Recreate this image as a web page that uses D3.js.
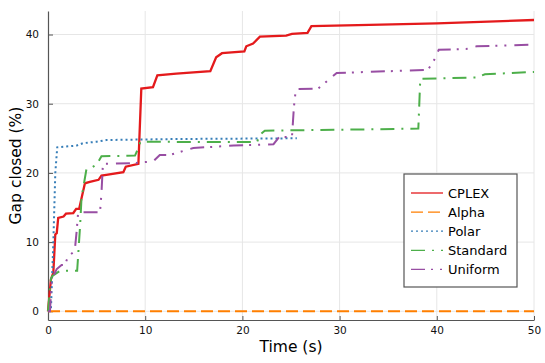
<!DOCTYPE html>
<html>
<head>
<meta charset="utf-8">
<script src="https://cdn.jsdelivr.net/npm/d3@7"></script>
<style>
  body { margin: 0; background: #fff; }
  svg { display: block; font-family: "DejaVu Sans", sans-serif; }
</style>
</head>
<body>
<div id="chart"></div>
<script>
// series data (time in s, gap closed in %)
const cplexT = [0, 0.3, 0.55, 0.75, 0.9, 1.05, 1.6, 1.85, 2.6, 2.9, 3.2, 3.8, 4.3, 5.2, 5.5, 6.0, 7.75, 8.0, 9.3, 9.6, 10.8, 11.25, 13.2, 16.7, 17.3, 17.9, 20.2, 20.4, 21.1, 21.8, 24.5, 25.1, 26.7, 27.1, 33.1, 40, 50];
const cplexV = [0, 4.6, 5.6, 11.1, 11.3, 13.5, 13.7, 14.1, 14.2, 14.8, 14.8, 18.5, 18.7, 19.0, 19.6, 19.7, 20.1, 20.9, 21.3, 32.2, 32.4, 34.1, 34.35, 34.7, 36.7, 37.3, 37.55, 38.3, 38.7, 39.7, 39.85, 40.1, 40.25, 41.2, 41.4, 41.6, 42.1];

const alphaT = [0, 50];
const alphaV = [0, 0];

const polarT = [0, 0.3, 0.55, 0.75, 0.95, 2.95, 3.6, 5.0, 6.0, 13.2, 25.6];
const polarV = [0, 0.2, 10, 20, 23.7, 23.95, 24.3, 24.5, 24.75, 24.9, 25.0];

const standardT = [0, 0.3, 0.45, 1.25, 3.0, 3.3, 3.45, 3.95, 4.3, 5.0, 5.5, 8.95, 9.3, 9.5, 21.5, 21.8, 22.3, 33.1, 38.1, 38.3, 44.1, 44.95, 50];
const standardV = [0, 4.7, 5.1, 5.85, 5.85, 12.3, 16.4, 20.5, 20.6, 21.2, 22.4, 22.5, 23.6, 24.5, 24.45, 25.5, 26.1, 26.3, 26.4, 33.6, 33.8, 34.25, 34.6];

const uniformT = [0, 0.2, 0.4, 0.9, 1.4, 1.75, 2.05, 2.75, 2.95, 3.1, 5.35, 5.5, 5.6, 5.65, 8.8, 9.8, 10.8, 11.5, 12.55, 14.95, 17.35, 19.1, 21.5, 23.2, 23.8, 25.1, 25.3, 25.5, 27.8, 29.7, 33.1, 39.1, 39.8, 40.2, 43.0, 44.1, 50];
const uniformV = [0, 0, 4.65, 6.1, 6.7, 6.7, 7.9, 8.7, 11.6, 14.3, 14.3, 17.1, 19.9, 21.3, 21.4, 21.55, 21.65, 22.6, 22.6, 23.6, 23.8, 23.95, 24.05, 24.15, 25.2, 25.2, 29.55, 32.1, 32.2, 34.45, 34.6, 34.9, 36.5, 37.8, 37.9, 38.3, 38.55];

const seriesNames = ["CPLEX", "Alpha", "Polar", "Standard", "Uniform"];
const xTicks = [0, 10, 20, 30, 40, 50];
const yTicks = [0, 10, 20, 30, 40];

const series = [
  { name: "CPLEX", t: cplexT, v: cplexV, color: "#e41a1c", dash: null },
  { name: "Alpha", t: alphaT, v: alphaV, color: "#ff7f00", dash: "12,5" },
  { name: "Polar", t: polarT, v: polarV, color: "#377eb8", dash: "2,3" },
  { name: "Standard", t: standardT, v: standardV, color: "#4daf4a", dash: "14,7,2,7" },
  { name: "Uniform", t: uniformT, v: uniformV, color: "#984ea3", dash: "14,6,2,7,2,8" }
];

const W = 545, H = 363;
const margin = { top: 11, right: 11, bottom: 43, left: 48 };
const width = W - margin.left - margin.right,
      height = H - margin.top - margin.bottom;

const svg = d3.select("#chart").append("svg")
  .attr("width", W).attr("height", H);

const g = svg.append("g")
  .attr("transform", `translate(${margin.left},${margin.top})`);

const x = d3.scaleLinear().domain([0, 50]).range([0, width]);
const y = d3.scaleLinear().domain([-1.26, 43.4]).range([height, 0]);

// grid
g.append("g").selectAll("line").data(xTicks.slice(1)).enter().append("line")
  .attr("x1", d => x(d)).attr("x2", d => x(d))
  .attr("y1", 0).attr("y2", height)
  .attr("stroke", "#e6e6e6").attr("stroke-width", 1);
g.append("g").selectAll("line").data(yTicks).enter().append("line")
  .attr("x1", 0).attr("x2", width)
  .attr("y1", d => y(d)).attr("y2", d => y(d))
  .attr("stroke", "#e6e6e6").attr("stroke-width", 1);

// axes
const xAxis = g.append("g")
  .attr("transform", `translate(0,${height})`)
  .call(d3.axisBottom(x).tickValues(xTicks).tickSizeInner(-4).tickSizeOuter(0).tickPadding(7));
const yAxis = g.append("g")
  .call(d3.axisLeft(y).tickValues(yTicks).tickSizeInner(-5).tickSizeOuter(0).tickPadding(9));

[xAxis, yAxis].forEach(a => {
  a.select(".domain").attr("stroke", "#555").attr("stroke-width", 1.2);
  a.selectAll(".tick line").attr("stroke", "#555");
  a.selectAll(".tick text").attr("fill", "#111")
    .style("font-size", "10.5px").style("font-family", "'DejaVu Sans', sans-serif");
});

// lines
const line = d3.line().x(d => x(d[0])).y(d => y(d[1]));
series.forEach(s => {
  const pts = s.t.map((t, i) => [t, s.v[i]]);
  g.append("path")
    .datum(pts)
    .attr("d", line)
    .attr("fill", "none")
    .attr("stroke", s.color)
    .attr("stroke-width", s.name === "CPLEX" ? 2.3 : 2)
    .attr("stroke-dasharray", s.dash);
});

// axis labels
svg.append("text")
  .attr("x", margin.left + width / 2).attr("y", 352)
  .attr("text-anchor", "middle")
  .style("font-size", "15.5px")
  .text("Time (s)");

svg.append("text")
  .attr("transform", `translate(21,${margin.top + height / 2}) rotate(-90)`)
  .attr("text-anchor", "middle")
  .style("font-size", "15.5px")
  .text("Gap closed (%)");

// legend
const lg = svg.append("g").attr("transform", "translate(404,174)");
lg.append("rect")
  .attr("width", 113).attr("height", 113)
  .attr("fill", "#fff").attr("stroke", "#555").attr("stroke-width", 1.2);
series.forEach((s, i) => {
  const yy = 19 + i * 19.1;
  lg.append("line")
    .attr("x1", 7).attr("x2", 39).attr("y1", yy).attr("y2", yy)
    .attr("stroke", s.color).attr("stroke-width", 1.3)
    .attr("stroke-dasharray", s.dash);
  lg.append("text")
    .attr("x", 44).attr("y", yy + 4.5)
    .style("font-size", "13px")
    .text(seriesNames[i]);
});
</script>
</body>
</html>
